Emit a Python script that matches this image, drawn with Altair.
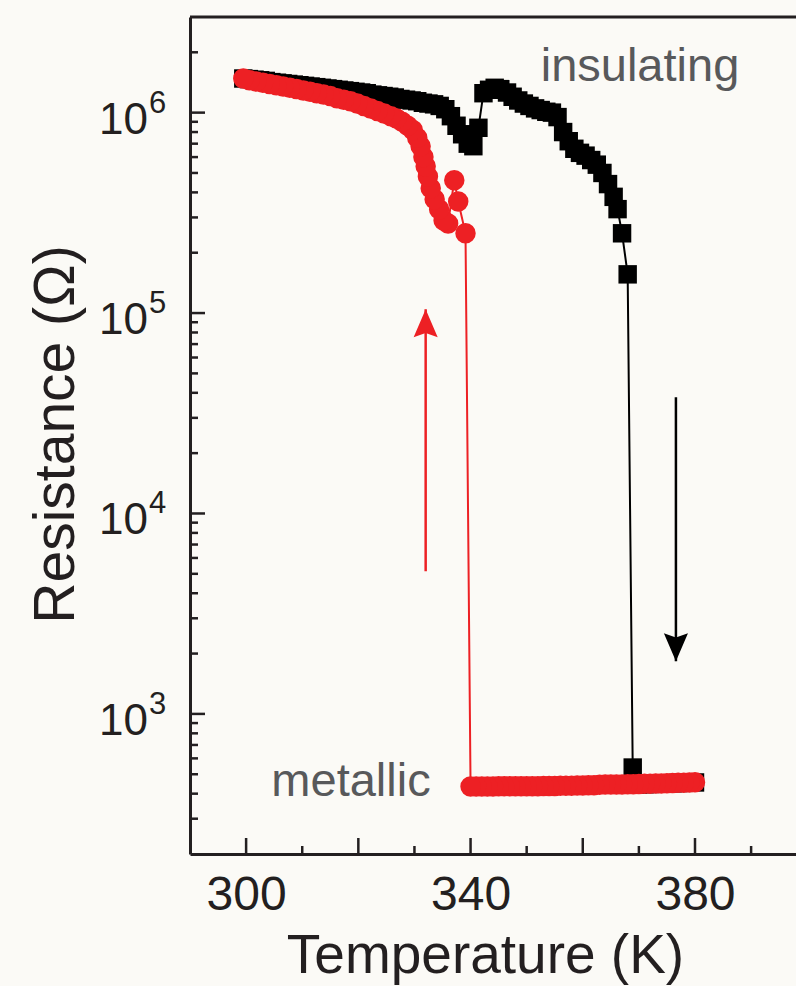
import altair as alt
import pandas as pd

# ---------------- data ----------------
# heating (black squares)
heat_T = [299.5, 300.5, 301.5, 302.5, 303.5, 304.5, 305.5, 306.5, 307.5, 308.5,
          309.5, 310.5, 311.5, 312.5, 313.5, 314.5, 315.5, 316.5, 317.5, 318.5,
          319.5, 320.5, 321.5, 322.5, 323.5, 324.5, 325.5, 326.5, 327.5, 328.5,
          329.5, 330.5, 331.5, 332.5, 333.5, 334.5, 335.5, 336.5, 337.5, 338.5,
          339.5, 340.5, 341.4, 342.3, 343.3, 344.3, 345.3, 346.5, 347.5, 348.5,
          349.5, 350.5, 351.5, 352.5, 353.5, 354.5, 355.5, 356.5, 357.5, 358.5,
          359.5, 360.5, 361.5, 362.5, 363.5, 364.5, 365.5, 366.2, 367.0, 368.0,
          368.9, 369.8, 371.0, 372.0, 373.0, 374.0, 375.0, 376.0, 377.0, 378.0,
          379.0, 380.0]
heat_R = [1.48e6, 1.47e6, 1.46e6, 1.45e6, 1.44e6, 1.42e6, 1.41e6, 1.40e6, 1.39e6, 1.38e6,
          1.37e6, 1.36e6, 1.35e6, 1.34e6, 1.33e6, 1.32e6, 1.31e6, 1.30e6, 1.29e6, 1.28e6,
          1.27e6, 1.26e6, 1.25e6, 1.23e6, 1.22e6, 1.21e6, 1.20e6, 1.19e6, 1.17e6, 1.16e6,
          1.15e6, 1.14e6, 1.12e6, 1.11e6, 1.10e6, 1.08e6, 1.04e6, 9.6e5, 8.6e5, 7.8e5,
          7.0e5, 6.8e5, 8.4e5, 1.25e6, 1.30e6, 1.33e6, 1.31e6, 1.26e6, 1.20e6, 1.15e6,
          1.11e6, 1.08e6, 1.05e6, 1.03e6, 1.01e6, 1.00e6, 9.5e5, 8.0e5, 7.2e5, 6.6e5,
          6.3e5, 6.1e5, 5.8e5, 5.5e5, 5.0e5, 4.4e5, 3.8e5, 3.3e5, 2.5e5, 1.56e5,
          540, 445, 446, 447, 448, 449, 450, 451, 452, 453,
          454, 455]

# cooling (red circles), in measurement order
cool_T = [380, 379, 378, 377, 376, 375, 374, 373, 372, 371,
          370, 369, 368, 367, 366, 365, 364, 363, 362, 361,
          360, 359, 358, 357, 356, 355, 354, 353, 352, 351,
          350, 349, 348, 347, 346, 345, 344, 343, 342, 341,
          340, 339.1, 337.8, 337.1, 336.0, 335.2, 334.4, 333.6, 332.9, 332.4,
          332.0, 331.6, 331.1, 330.5, 329.7, 328.8, 327.8, 326.8, 325.8, 324.6,
          323.4, 322.2, 321.0, 319.8, 318.6, 317.4, 316.2, 315.0, 313.8, 312.6,
          311.4, 310.2, 309.0, 307.8, 306.6, 305.4, 304.2, 303.0, 301.8, 300.6,
          299.5]
cool_R = [456, 455, 454, 453, 452, 451, 450, 449, 448, 448,
          447, 446, 446, 445, 445, 444, 444, 443, 440, 440,
          439, 439, 438, 438, 438, 437, 437, 437, 436, 436,
          436, 436, 435, 435, 435, 435, 434, 434, 434, 434,
          434, 2.5e5, 3.6e5, 4.6e5, 2.8e5, 2.9e5, 3.3e5, 3.7e5, 4.2e5, 4.8e5,
          5.4e5, 6.0e5, 6.8e5, 7.5e5, 8.2e5, 8.6e5, 9.0e5, 9.35e5, 9.6e5, 9.9e5,
          1.02e6, 1.05e6, 1.08e6, 1.11e6, 1.14e6, 1.16e6, 1.18e6, 1.21e6, 1.23e6, 1.25e6,
          1.27e6, 1.29e6, 1.31e6, 1.33e6, 1.35e6, 1.37e6, 1.39e6, 1.41e6, 1.43e6, 1.45e6,
          1.48e6]

# axis ticks / labels
x_major = [300, 320, 340, 360, 380]
x_minor = [310, 330, 350, 370, 390]
x_labels = [300, 340, 380]
y_major = [1e3, 1e4, 1e5, 1e6]
y_exp = ["3", "4", "5", "6"]
y_minor = [300, 400, 500, 600, 700, 800, 900,
           2000, 3000, 4000, 5000, 6000, 7000, 8000, 9000,
           2e4, 3e4, 4e4, 5e4, 6e4, 7e4, 8e4, 9e4,
           2e5, 3e5, 4e5, 5e5, 6e5, 7e5, 8e5, 9e5,
           2e6]

# annotations
notes = ["insulating", "metallic"]
notes_T = [352.5, 304.5]
notes_R = [1.43e6, 389]
arrow_red = {"T": 332.0, "tail": 5.15e3, "tip": 1.045e5}
arrow_black = {"T": 376.6, "tail": 3.8e4, "tip": 1.83e3}

# ---------------- chart ----------------
W, H = 606, 837
INK = "#231f20"
RED = "#ed2024"
FONT = "Liberation Sans"

xs = alt.Scale(domain=[290, 398], nice=False, zero=False)
ys = alt.Scale(type="log", domain=[200, 3e6], nice=False)

heat = pd.DataFrame({"T": heat_T, "R": heat_R, "i": range(len(heat_T))})
cool = pd.DataFrame({"T": cool_T, "R": cool_R, "i": range(len(cool_T))})

X = alt.X("T:Q", scale=xs, axis=alt.Axis(
    values=x_labels, ticks=False, tickSize=0, grid=False, labelFontSize=48,
    labelFont=FONT, labelColor=INK, labelPadding=55, labelBaseline="alphabetic",
    domainColor=INK, domainWidth=3, title="Temperature (K)", titleFont=FONT,
    titleFontSize=55, titleFontWeight="normal", titleColor=INK,
    titleX=295, titleY=118, titleBaseline="alphabetic", titleAlign="center"))
Y = alt.Y("R:Q", scale=ys, axis=alt.Axis(
    labels=False, ticks=False, tickSize=0, grid=False, domainColor=INK, domainWidth=3,
    title="Resistance (Ω)", titleFont=FONT, titleFontSize=57, titleFontWeight="normal",
    titleColor=INK, titleX=-134, titleY=417, titleAngle=270,
    titleBaseline="middle", titleAlign="center"))

heat_line = alt.Chart(heat).mark_line(color="black", strokeWidth=2).encode(x=X, y=Y, order="i:Q")
heat_pts = alt.Chart(heat).mark_point(shape="square", filled=True, size=340,
                                      color="black", opacity=1).encode(x=X, y=Y)
cool_line = alt.Chart(cool).mark_line(color=RED, strokeWidth=2).encode(x=X, y=Y, order="i:Q")
cool_pts = alt.Chart(cool).mark_point(shape="circle", filled=True, size=420,
                                      color=RED, opacity=1).encode(x=X, y=Y)

# inward ticks
ymaj = alt.Chart(pd.DataFrame({"v": y_major})).mark_rule(color=INK, strokeWidth=2.5).encode(
    y=alt.Y("v:Q", scale=ys), x=alt.value(0), x2=alt.value(15))
ymin = alt.Chart(pd.DataFrame({"v": y_minor})).mark_rule(color=INK, strokeWidth=2.5).encode(
    y=alt.Y("v:Q", scale=ys), x=alt.value(0), x2=alt.value(8))
xmaj = alt.Chart(pd.DataFrame({"v": x_major})).mark_rule(color=INK, strokeWidth=2.5).encode(
    x=alt.X("v:Q", scale=xs), y=alt.value(H), y2=alt.value(H - 16))
xmin = alt.Chart(pd.DataFrame({"v": x_minor})).mark_rule(color=INK, strokeWidth=2.5).encode(
    x=alt.X("v:Q", scale=xs), y=alt.value(H), y2=alt.value(H - 8))
top = alt.Chart(alt.Data(values=[{"a": 1}])).mark_rule(color=INK, strokeWidth=3).encode(
    y=alt.value(0), x=alt.value(0), x2=alt.value(W))

# y tick labels 10^n
ylab_df = pd.DataFrame({"v": y_major, "e": y_exp})
ylab = alt.Chart(ylab_df).mark_text(align="right", baseline="alphabetic", fontSize=44,
                                    font=FONT, color=INK, dy=21).encode(
    y=alt.Y("v:Q", scale=ys), x=alt.value(-42), text=alt.value("10"))
yexp = alt.Chart(ylab_df).mark_text(align="left", baseline="alphabetic", fontSize=31,
                                    font=FONT, color=INK, dy=0).encode(
    y=alt.Y("v:Q", scale=ys), x=alt.value(-41), text="e:N")

# annotations
notes_df = pd.DataFrame({"T": notes_T, "R": notes_R, "t": notes})
note_txt = alt.Chart(notes_df).mark_text(align="left", baseline="alphabetic", fontSize=47,
                                         font=FONT, color="#58595b").encode(
    x=alt.X("T:Q", scale=xs), y=alt.Y("R:Q", scale=ys), text="t:N")

def arrow(a, color, path):
    d = pd.DataFrame([a])
    shaft = alt.Chart(d).mark_rule(color=color, strokeWidth=2.5).encode(
        x=alt.X("T:Q", scale=xs), y=alt.Y("tail:Q", scale=ys), y2="tip:Q")
    head = alt.Chart(d).mark_point(shape=path, filled=True, size=784, color=color,
                                   opacity=1, strokeWidth=0).encode(
        x=alt.X("T:Q", scale=xs), y=alt.Y("tip:Q", scale=ys))
    return shaft + head

up = "M0,0L0.86,2L0,1.7L-0.86,2Z"
down = "M0,0L0.86,-2L0,-1.7L-0.86,-2Z"

chart = alt.layer(
    top, ymaj, ymin, xmaj, xmin,
    heat_line, heat_pts, cool_line, cool_pts,
    arrow(arrow_red, RED, up), arrow(arrow_black, "black", down),
    note_txt, ylab, yexp,
).properties(
    width=W, height=H,
    autosize=alt.AutoSizeParams(type="none"),
    padding={"left": 190, "top": 17, "right": 0, "bottom": 132},
).configure(background="#fbfaf6").configure_view(stroke=None)

chart.save("out.html", embed_options={"renderer": "svg", "actions": False})
